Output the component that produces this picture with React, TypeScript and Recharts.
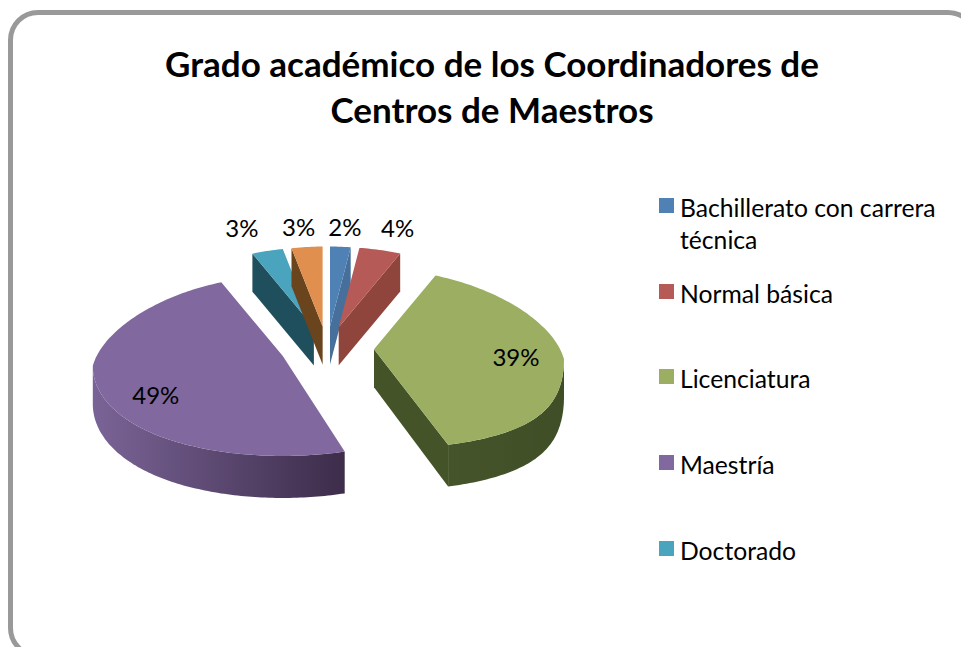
import React from 'react';
import { PieChart, Pie, Legend } from 'recharts';

const categories = ['Bachillerato con carrera técnica', 'Normal básica', 'Licenciatura', 'Maestría', 'Doctorado', 'Otro'];
const values = [2, 4, 39, 49, 3, 3];

const topColors = ['#4f81b5', '#b65a57', '#9bae62', '#8169a0', '#4aa4bd', '#e08f4e'];
const cutColors = ['#466f9b', '#8f443c', '#445328', '#3d2c4a', '#1f4f5c', '#69441c'];
const wallLeft = ['#466f9b', '#8f443c', '#45542a', '#7a6497', '#1f4f5c', '#69441c'];
const wallRight = ['#466f9b', '#8f443c', '#3f4e26', '#3d2c4a', '#1f4f5c', '#69441c'];

// label nudges relative to the apex of each exploded slice
const labelOffsets = [[15, -100], [59, -100], [142, 7], [-127, 39], [-72, -100], [-24, -100]];
// how much the front of each slice widens, the chart has a perspective
const frontSpread = [0.13, 0.13, 0.29, 0.06, 0.13, 0.13];

const FONT = 'Lato, "Open Sans", sans-serif';
const RY = 90;
const RING_DY = 10;
const DEPTH = 38;
const FRONT_DEPTH = 4;
const EXPLODE_X = 47;
const EXPLODE_Y = 22;
const BACK_SPREAD = 0.13;

const rows = categories.map((name, i) => ({
  name,
  value: values[i],
  fill: topColors[i],
  cut: cutColors[i],
  index: i,
}));

const rad = (deg: number) => (deg * Math.PI) / 180;

// recharts angles run counter-clockwise from 3 o'clock, this one clockwise from 12
const clock = (a: number) => 90 - a;

type Pt = { x: number; y: number };

function apexOf(cx: number, cy: number, mid: number): Pt {
  return { x: cx + EXPLODE_X * Math.sin(rad(mid)), y: cy - EXPLODE_Y * Math.cos(rad(mid)) };
}

function ring(apex: Pt, r: number, a: number, spread: number): Pt {
  const c = Math.cos(rad(a));
  const k = c > 0 ? 1 - BACK_SPREAD * c : 1 + spread * c * c;
  return {
    x: apex.x + r * Math.sin(rad(a)) * k,
    y: apex.y + RING_DY - RY * c,
  };
}

const toPath = (pts: Pt[]) =>
  pts.map((p, i) => `${i ? 'L' : 'M'}${p.x.toFixed(1)},${p.y.toFixed(1)}`).join(' ') + ' Z';

// walls get a little taller toward the viewer
const down = (p: Pt, a?: number) => ({
  x: p.x,
  y: p.y + DEPTH + (a === undefined ? 0 : FRONT_DEPTH * Math.max(0, -Math.cos(rad(a)))),
});

function Slice3D(props: any) {
  const { cx, cy, startAngle, endAngle, outerRadius, payload } = props;
  const row = payload;
  const spread = frontSpread[row.index];
  const from = clock(startAngle);
  const to = clock(endAngle);
  const apex = apexOf(cx, cy, (from + to) / 2);
  const arc: Pt[] = [];
  for (let a = from; a < to; a += 1) arc.push(ring(apex, outerRadius, a, spread));
  arc.push(ring(apex, outerRadius, to, spread));
  const first = arc[0];
  const last = arc[arc.length - 1];

  const wallTop: Pt[] = [];
  const wallBottom: Pt[] = [];
  const wFrom = Math.max(from, 90);
  const wTo = Math.min(to, 270);
  if (wTo > wFrom) {
    for (let a = wFrom; a <= wTo; a = a === wTo ? wTo + 1 : Math.min(a + 1, wTo)) {
      const p = ring(apex, outerRadius, a, spread);
      wallTop.push(p);
      wallBottom.push(down(p, a));
    }
  }
  const wallPts = [...wallTop, ...wallBottom.reverse()];
  const gid = `wall-${row.index}`;

  return (
    <g>
      <defs>
        <linearGradient id={gid} x1="0" y1="0" x2="1" y2="0">
          <stop offset="0%" stopColor={wallLeft[row.index]} />
          <stop offset="100%" stopColor={wallRight[row.index]} />
        </linearGradient>
      </defs>
      {Math.sin(rad(from)) < 0 && (
        <path d={toPath([apex, first, down(first, from), down(apex)])} fill={row.cut} />
      )}
      {Math.sin(rad(to)) > 0 && (
        <path d={toPath([apex, last, down(last, to), down(apex)])} fill={row.cut} />
      )}
      {wallPts.length > 0 && <path d={toPath(wallPts)} fill={`url(#${gid})`} />}
      <path d={toPath([apex, ...arc])} fill={row.fill} />
    </g>
  );
}

function SliceLabel(props: any) {
  const { cx, cy, midAngle, value, index } = props;
  const apex = apexOf(cx, cy, clock(midAngle));
  const [dx, dy] = labelOffsets[index];
  return (
    <text
      x={apex.x + dx}
      y={apex.y + dy}
      textAnchor="middle"
      dominantBaseline="central"
      fontFamily={FONT}
      fontSize={24}
      fill="#000"
    >
      {value}%
    </text>
  );
}

function LegendList({ payload }: any) {
  return (
    <div style={{ position: 'relative', width: 300, height: 400 }}>
      {(payload || []).slice(0, 5).map((entry: any, i: number) => (
        <div key={entry.value} style={{ position: 'absolute', left: 0, top: i * 85.7, display: 'flex' }}>
          <div style={{ width: 15, height: 15, marginTop: 6, marginRight: 6, background: entry.color, flex: 'none' }} />
          <div style={{ width: 272, fontFamily: FONT, fontSize: 24.7, lineHeight: '32px', color: '#000' }}>{entry.value}</div>
        </div>
      ))}
    </div>
  );
}

export default function App() {
  return (
    <div style={{ position: 'absolute', left: 0, top: 0, width: 961, height: 647, overflow: 'hidden', background: '#fff' }}>
      <div
        style={{
          position: 'absolute',
          left: 8,
          top: 10,
          width: 970,
          height: 648,
          boxSizing: 'border-box',
          border: '5px solid #999',
          borderRadius: 30,
        }}
      />
      <div
        style={{
          position: 'absolute',
          left: 100,
          top: 40,
          width: 784,
          textAlign: 'center',
          fontFamily: FONT,
          fontWeight: 700,
          fontSize: 35,
          lineHeight: '46px',
          color: '#000',
        }}
      >
        Grado académico de los Coordinadores de
        <br />
        Centros de Maestros
      </div>
      <div style={{ position: 'absolute', left: 0, top: 0 }}>
        <PieChart width={961} height={647} margin={{ top: 0, right: 0, bottom: 0, left: 0 }}>
          <Pie
            data={rows}
            dataKey="value"
            nameKey="name"
            cx={327}
            cy={348.5}
            innerRadius={0}
            outerRadius={190}
            startAngle={90}
            endAngle={-270}
            isAnimationActive={false}
            shape={Slice3D}
            label={SliceLabel}
            labelLine={false}
          />
          <Legend
            content={LegendList}
            layout="vertical"
            itemSorter={null}
            wrapperStyle={{ position: 'absolute', left: 659, top: 192, width: 300, height: 400 }}
          />
        </PieChart>
      </div>
    </div>
  );
}
